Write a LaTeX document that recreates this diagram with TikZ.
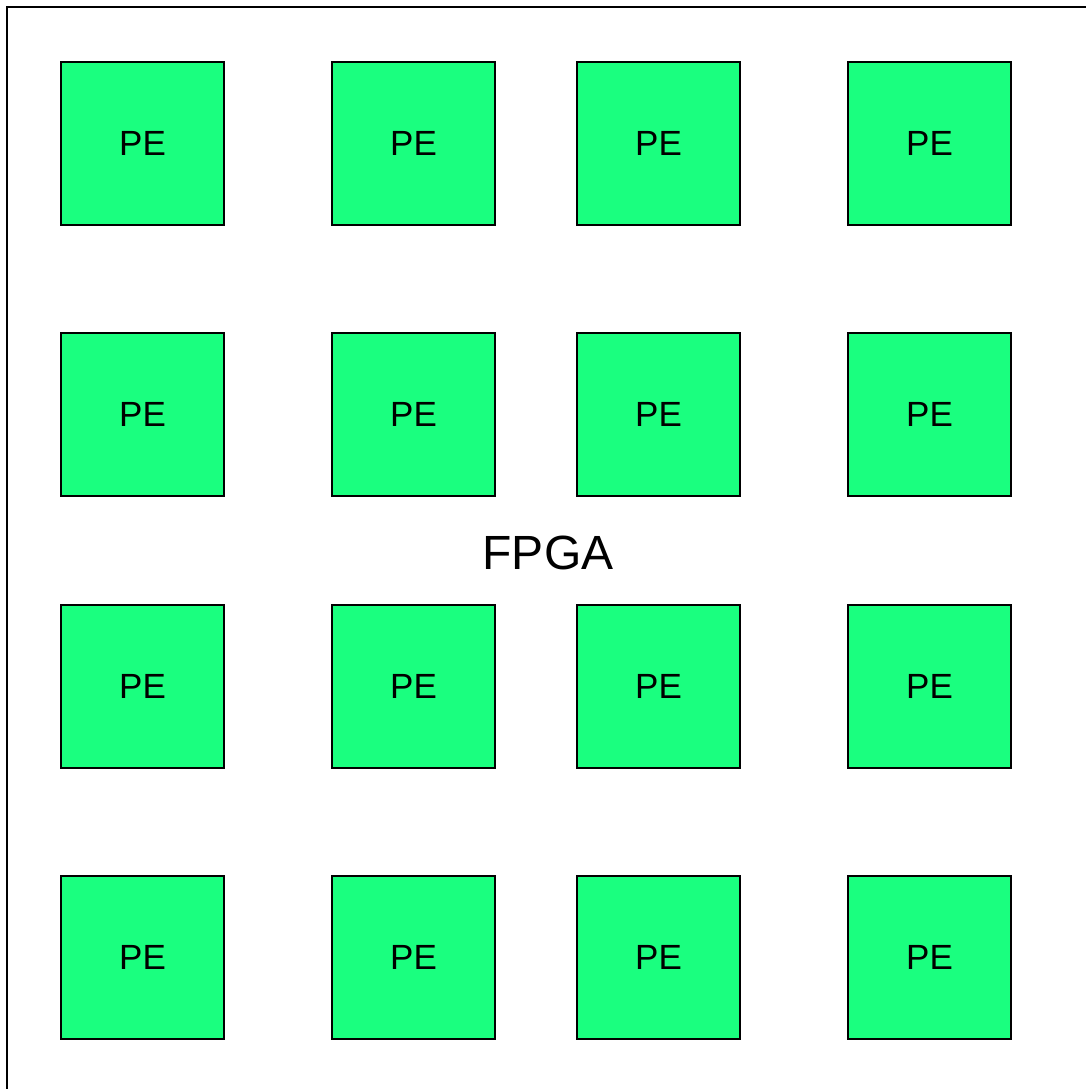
\documentclass[tikz,border=0pt]{standalone}
\usepackage{fontspec}
\setmainfont{Liberation Sans}
\usetikzlibrary{positioning}
\definecolor{pegreen}{RGB}{26,255,127}

\begin{document}
\begin{tikzpicture}[
  x=1pt, y=-1pt,
  pe/.style={draw, fill=pegreen, line width=2.5pt, minimum width=163pt, minimum height=163pt,
    inner sep=0pt, font=\fontsize{35}{40}\selectfont},
  board/.style={draw, line width=2.5pt},
  lbl/.style={font=\fontsize{48}{54}\selectfont}
]
\useasboundingbox (0,0) rectangle (1086,1089);
\clip (0,0) rectangle (1086,1089);

\draw[board] (7,7) rectangle (1120,1120);
\node[lbl] (fpga) at (548,553) {FPGA};

\foreach \r/\y in {1/143.5, 2/414.5, 3/686.5, 4/957.5}
  \foreach \c/\x in {1/142.5, 2/413.5, 3/658.5, 4/929.5}
    \node[pe] (pe-\r-\c) at (\x,\y) {PE};

\end{tikzpicture}
\end{document}
